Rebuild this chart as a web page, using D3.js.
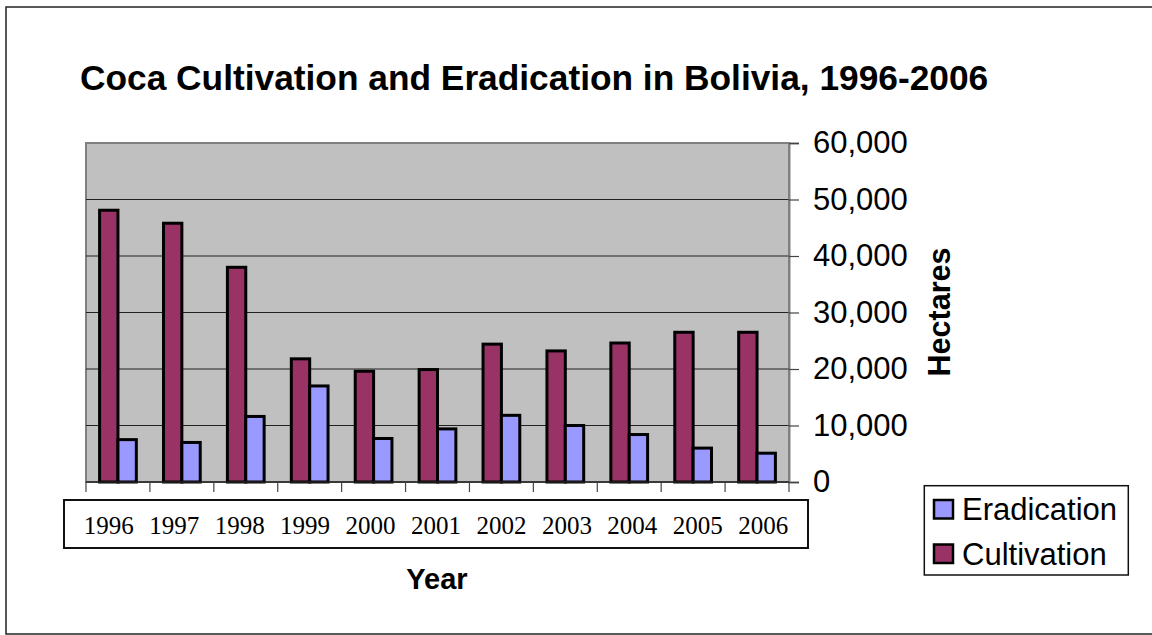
<!DOCTYPE html>
<html>
<head>
<meta charset="utf-8">
<script src="https://cdn.jsdelivr.net/npm/d3@7"></script>
<style>
  html, body { margin: 0; padding: 0; background: #fff; }
  svg { display: block; }
</style>
</head>
<body>
<svg id="chart" width="1152" height="635"></svg>
<script>
const years = ["1996","1997","1998","1999","2000","2001","2002","2003","2004","2005","2006"];
const cultivation = [48100, 45800, 38000, 21800, 19600, 19900, 24400, 23200, 24600, 26500, 26500];
const eradication = [7500, 7000, 11600, 17000, 7700, 9400, 11800, 10000, 8400, 6000, 5100];
const seriesNames = ["Cultivation", "Eradication"];
const seriesColors = ["#993366", "#9999FF"];
const yTicks = [0, 10000, 20000, 30000, 40000, 50000, 60000];
const legendOrder = ["Eradication", "Cultivation"];

const svg = d3.select("#chart");
const sans = "'Liberation Sans', Arial, sans-serif";
const serif = "'Liberation Serif', 'Times New Roman', serif";

const X0 = 86, X1 = 789, Y0 = 143, Y1 = 482;

// outer frame
svg.append("rect").attr("x", 6).attr("y", 7).attr("width", 1170).attr("height", 627)
  .attr("fill", "#fff").attr("stroke", "#222").attr("stroke-width", 1.5);

// title
svg.append("text").attr("x", 80).attr("y", 90)
  .attr("font-family", sans).attr("font-weight", "bold").attr("font-size", 35.3)
  .text("Coca Cultivation and Eradication in Bolivia, 1996-2006");

const x = d3.scaleBand().domain(years).range([X0, X1]).paddingInner(0).paddingOuter(0);
const xs = d3.scaleBand().domain(seriesNames).range([0, x.bandwidth()]).paddingInner(0).paddingOuter(0.74);
const y = d3.scaleLinear().domain([0, 60000]).range([Y1, Y0]);
const color = d3.scaleOrdinal().domain(seriesNames).range(seriesColors);

// plot area
svg.append("rect").attr("x", X0).attr("y", Y0).attr("width", X1 - X0).attr("height", Y1 - Y0)
  .attr("fill", "#C0C0C0").attr("stroke", "#808080").attr("stroke-width", 2);

// gridlines
svg.append("g").selectAll("line").data(yTicks.filter(d => d > 0 && d < 60000)).join("line")
  .attr("x1", X0).attr("x2", X1).attr("y1", d => y(d)).attr("y2", d => y(d))
  .attr("stroke", "#222").attr("stroke-width", 1.2);

// bars
const rows = years.map((yr, i) => ({ year: yr, Cultivation: cultivation[i], Eradication: eradication[i] }));
const g = svg.append("g");
g.selectAll("g").data(rows).join("g")
  .attr("transform", d => `translate(${x(d.year)},0)`)
  .selectAll("rect").data(d => seriesNames.map(k => ({ key: k, value: d[k] }))).join("rect")
  .attr("x", d => xs(d.key)).attr("width", xs.bandwidth())
  .attr("y", d => y(d.value)).attr("height", d => y(0) - y(d.value))
  .attr("fill", d => color(d.key)).attr("stroke", "#000").attr("stroke-width", 3);

// right axis
const yAxis = d3.axisRight(y).tickValues(yTicks).tickSize(10).tickPadding(14).tickFormat(d3.format(","));
const ya = svg.append("g").attr("transform", `translate(${X1},0)`).call(yAxis);
ya.select(".domain").attr("stroke", "#808080").attr("stroke-width", 2);
ya.selectAll(".tick line").attr("stroke", "#444").attr("stroke-width", 1.2);
ya.selectAll(".tick text").attr("font-family", sans).attr("font-size", 31).attr("fill", "#000");

// bottom axis line + ticks at category boundaries
const edges = years.map(d => x(d)).concat([X1]);
svg.append("line").attr("x1", X0).attr("x2", X1).attr("y1", Y1).attr("y2", Y1)
  .attr("stroke", "#222").attr("stroke-width", 1.5);
svg.append("g").selectAll("line").data(edges).join("line")
  .attr("x1", d => d).attr("x2", d => d).attr("y1", Y1).attr("y2", Y1 + 10)
  .attr("stroke", "#444").attr("stroke-width", 1.2);

// year label box
svg.append("rect").attr("x", 64).attr("y", 500).attr("width", 744).attr("height", 48)
  .attr("fill", "#fff").attr("stroke", "#111").attr("stroke-width", 2);
const xl = d3.scaleBand().domain(years).range([76, 796]);
svg.append("g").selectAll("text").data(years).join("text")
  .attr("x", d => xl(d) + xl.bandwidth() / 2).attr("y", 534)
  .attr("text-anchor", "middle").attr("font-family", serif).attr("font-size", 25)
  .text(d => d);

// axis titles
svg.append("text").attr("x", 437).attr("y", 589).attr("text-anchor", "middle")
  .attr("font-family", sans).attr("font-weight", "bold").attr("font-size", 29).text("Year");
svg.append("text").attr("transform", "translate(950,312) rotate(-90)").attr("text-anchor", "middle")
  .attr("font-family", sans).attr("font-weight", "bold").attr("font-size", 30.5).text("Hectares");

// legend
svg.append("rect").attr("x", 924.3).attr("y", 485.7).attr("width", 204).attr("height", 89.3)
  .attr("fill", "#fff").attr("stroke", "#111").attr("stroke-width", 1.5);
const lg = svg.append("g").selectAll("g").data(legendOrder).join("g")
  .attr("transform", (d, i) => `translate(0,${i * 44.5})`);
lg.append("rect").attr("x", 934).attr("y", 500).attr("width", 19).attr("height", 18.5)
  .attr("fill", d => color(d)).attr("stroke", "#000").attr("stroke-width", 2.5);
lg.append("text").attr("x", 962).attr("y", 520)
  .attr("font-family", sans).attr("font-size", 31).text(d => d);
</script>
</body>
</html>
